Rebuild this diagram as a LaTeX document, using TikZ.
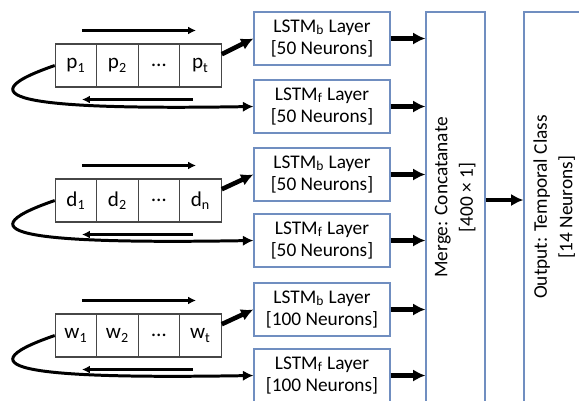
\documentclass[tikz,border=0pt]{standalone}
\usepackage{fontspec}
\setmainfont{Carlito}
\usepackage{tikz}
\usetikzlibrary{arrows.meta}

\definecolor{layerblue}{RGB}{112,142,192}
\definecolor{cellgray}{RGB}{70,70,70}

\tikzset{
  cell/.style={draw=cellgray, line width=0.6pt, minimum width=0.83cm, minimum height=0.86cm, inner sep=0pt, font=\fontsize{12}{14}\selectfont},
  layer/.style={draw=layerblue, line width=0.7pt, minimum width=2.72cm, minimum height=1.06cm, align=center, inner sep=0pt},
  tall/.style={draw=layerblue, line width=0.7pt, minimum height=7.8cm, inner sep=0pt},
  flow/.style={-{Latex[length=4.5pt,width=4.5pt]}, line width=1.8pt},
  feed/.style={-{Latex[length=7pt,width=7pt]}, line width=2.6pt},
  wrap/.style={-{Latex[length=6pt,width=6pt]}, line width=1.7pt},
}

\begin{document}
\begin{tikzpicture}[x=0.02cm, y=-0.02cm, font=\fontsize{11}{13}\selectfont]
        \useasboundingbox (0,0) rectangle (579,400);
        \clip (0,0) rectangle (579,400);

        \node[cell] (p1) at (76, 65.5) {p\textsubscript{1}};
        \node[cell] (p2) at (117.5, 65.5) {p\textsubscript{2}};
        \node[cell] (p3) at (159, 65.5) {…};
        \node[cell] (pt) at (200.5, 65.5) {p\textsubscript{t}};

        \node[cell] (d1) at (76, 200.5) {d\textsubscript{1}};
        \node[cell] (d2) at (117.5, 200.5) {d\textsubscript{2}};
        \node[cell] (d3) at (159, 200.5) {…};
        \node[cell] (dn) at (200.5, 200.5) {d\textsubscript{n}};

        \node[cell] (w1) at (76, 335.5) {w\textsubscript{1}};
        \node[cell] (w2) at (117.5, 335.5) {w\textsubscript{2}};
        \node[cell] (w3) at (159, 335.5) {…};
        \node[cell] (wt) at (200.5, 335.5) {w\textsubscript{t}};

        \node[layer] (lb1) at (322, 38.5) {LSTM\textsubscript{b} Layer\\{}[50 Neurons]};
        \node[layer] (lf1) at (322, 106.5) {LSTM\textsubscript{f} Layer\\{}[50 Neurons]};
        \node[layer] (lb2) at (322, 174.5) {LSTM\textsubscript{b} Layer\\{}[50 Neurons]};
        \node[layer] (lf2) at (322, 240.5) {LSTM\textsubscript{f} Layer\\{}[50 Neurons]};
        \node[layer] (lb3) at (322, 309.5) {LSTM\textsubscript{b} Layer\\{}[100 Neurons]};
        \node[layer] (lf3) at (322, 375.5) {LSTM\textsubscript{f} Layer\\{}[100 Neurons]};

        \node[tall, minimum width=1.18cm] (merge) at (455.5, 207)
            {\rotatebox{90}{\hspace*{11pt}\begin{tabular}{@{}c@{}}Merge: Concatanate\\[1.5pt]{[}400 × 1{]}\end{tabular}}};
        \node[tall, minimum width=1.24cm] (out) at (555, 207)
            {\rotatebox{90}{\begin{tabular}{@{}c@{}}Output: Temporal Class\\[1.5pt]{[}14 Neurons{]}\end{tabular}}};

        \draw[flow] ([xshift=0.12cm, yshift=0.26cm]p1.north) -- ([xshift=-0.09cm, yshift=0.26cm]pt.north);
        \draw[flow] ([xshift=-0.15cm, yshift=-0.24cm]pt.south) -- ([xshift=0.12cm, yshift=-0.24cm]p1.south);
        \draw[flow] ([xshift=0.12cm, yshift=0.26cm]d1.north) -- ([xshift=-0.09cm, yshift=0.26cm]dn.north);
        \draw[flow] ([xshift=-0.15cm, yshift=-0.24cm]dn.south) -- ([xshift=0.12cm, yshift=-0.24cm]d1.south);
        \draw[flow] ([xshift=0.12cm, yshift=0.26cm]w1.north) -- ([xshift=-0.09cm, yshift=0.26cm]wt.north);
        \draw[flow] ([xshift=-0.15cm, yshift=-0.24cm]wt.south) -- ([xshift=0.12cm, yshift=-0.24cm]w1.south);

        \draw[feed] (pt.28) -- (lb1.west);
        \draw[feed] (dn.28) -- (lb2.west);
        \draw[feed] (wt.28) -- (lb3.west);

        \draw[wrap] (p1.west) .. controls +(-100,34.5) and +(-214,3.5) .. (lf1.west);
        \draw[wrap] (d1.west) .. controls +(-100,34.5) and +(-214,3.5) .. (lf2.west);
        \draw[wrap] (w1.west) .. controls +(-100,34.5) and +(-214,3.5) .. (lf3.west);

        \draw[feed] (lb1.east) -- (lb1.east -| merge.west);
        \draw[feed] (lf1.east) -- (lf1.east -| merge.west);
        \draw[feed] (lb2.east) -- (lb2.east -| merge.west);
        \draw[feed] (lf2.east) -- (lf2.east -| merge.west);
        \draw[feed] (lb3.east) -- (lb3.east -| merge.west);
        \draw[feed] (lf3.east) -- (lf3.east -| merge.west);

        \draw[feed] ([yshift=0.14cm]merge.east) -- ([yshift=0.14cm]merge.east -| out.west);

    \end{tikzpicture}
\end{document}
